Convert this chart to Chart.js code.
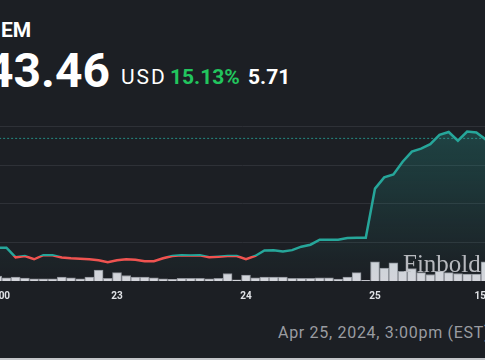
<!DOCTYPE html>
<html>
<head>
<meta charset="utf-8">
<script src="https://cdn.jsdelivr.net/npm/chart.js@4.4.1/dist/chart.umd.min.js"></script>
<style>
  html, body { margin: 0; padding: 0; }
  body { width: 485px; height: 360px; background: #1c1f24; overflow: hidden; position: relative; font-family: Roboto, "Noto Sans", sans-serif; }
  .t { position: absolute; white-space: nowrap; line-height: 1; }
  #wrap { position: absolute; left: -40px; top: 102px; width: 565px; height: 215px; }
  #mark { position: absolute; left: 403px; top: 250px; font-family: "Liberation Serif", serif; font-size: 25px; color: #bfc1c6; opacity: 0.95; }
  #strip { position: absolute; left: 0; bottom: 0; width: 485px; height: 2px; background: #c4c6ca; }
</style>
</head>
<body>
<div class="t" style="left:1px;top:20px;font-size:21px;font-weight:700;color:#fff;">EM</div>
<div class="t" style="left:-14px;top:47px;font-size:48px;font-weight:700;color:#fff;">43.46</div>
<div class="t" style="left:121px;top:67px;font-size:21px;letter-spacing:2px;color:#fff;">USD</div>
<div class="t" style="left:170px;top:67px;font-size:21px;font-weight:700;color:#22c55e;">15.13%</div>
<div class="t" style="left:248px;top:67px;font-size:21px;font-weight:700;color:#fff;">5.71</div>
<div id="wrap"><canvas id="chart"></canvas></div>
<div id="mark">Finbold</div>
<div class="t" style="left:278px;top:325px;font-size:16px;letter-spacing:0.7px;color:#9a9ca1;">Apr 25, 2024, 3:00pm (EST)</div>
<div id="strip"></div>
<script>
// hourly points, index 0..55 (14 per day)
const prices = [
  37.75, 37.75, 37.75, 37.25, 37.32, 37.15, 37.36, 37.36, 37.24, 37.20,
  37.18, 37.15, 37.10, 37.00, 37.10, 37.15, 37.12, 37.05, 37.05, 37.20,
  37.32, 37.36, 37.35, 37.36, 37.25, 37.28, 37.32, 37.32, 37.15, 37.32,
  37.60, 37.62, 37.55, 37.62, 37.80, 37.90, 38.16, 38.16, 38.16, 38.24,
  38.26, 38.26, 40.79, 41.37, 41.52, 42.18, 42.70, 42.85, 43.08, 43.56,
  43.71, 43.26, 43.73, 43.68, 43.33, 43.38
];
const volumes = [
  40, 50, 33, 40, 30, 23, 23, 23, 40, 33,
  23, 40, 113, 27, 87, 57, 40, 40, 33, 23,
  17, 27, 27, 27, 23, 27, 77, 13, 62, 33,
  40, 40, 40, 27, 27, 27, 33, 33, 20, 40,
  87, 7, 197, 133, 187, 100, 127, 87, 67, 100,
  87, 77, 70, 70, 197, 100
];
const tickIndex = [1, 14, 28, 42, 54.2];
const tickLabels = ['12:00', '23', '24', '25', '15:00'];
const gridValues = [38, 40, 42, 44];
const prevClose = 37.33;
const lastLine = 43.38;

const teal = '#26a69a';
const red = '#ef5350';

const ctx = document.getElementById('chart').getContext('2d');

function lineColor(context) {
  const chart = context.chart;
  const area = chart.chartArea;
  if (!area || !chart.scales.y) return teal;
  const py = chart.scales.y.getPixelForValue(prevClose);
  let f = (py - area.top) / (area.bottom - area.top);
  f = Math.min(Math.max(f, 0), 1);
  const g = chart.ctx.createLinearGradient(0, area.top, 0, area.bottom);
  g.addColorStop(0, teal);
  g.addColorStop(f, teal);
  g.addColorStop(f, red);
  g.addColorStop(1, red);
  return g;
}

function fillColor(context) {
  const area = context.chart.chartArea;
  if (!area) return 'rgba(38,166,154,0.2)';
  const g = context.chart.ctx.createLinearGradient(0, area.top, 0, area.bottom);
  g.addColorStop(0, 'rgba(38,166,154,0.30)');
  g.addColorStop(1, 'rgba(38,166,154,0.0)');
  return g;
}

const chart = new Chart(ctx, {
  data: {
    datasets: [
      {
        type: 'line',
        data: [{ x: -4, y: lastLine }, { x: 60, y: lastLine }],
        borderColor: 'rgba(38,166,154,0.8)',
        borderWidth: 1,
        borderDash: [2, 2],
        pointRadius: 0,
        fill: false,
        order: 1
      },
      {
        type: 'line',
        data: prices.map((v, i) => ({ x: i, y: v })),
        borderColor: lineColor,
        backgroundColor: fillColor,
        borderWidth: 2.5,
        pointRadius: 0,
        tension: 0,
        fill: 'start',
        order: 0
      },
      {
        type: 'bar',
        data: volumes.map((v, i) => ({ x: i, y: v })),
        yAxisID: 'vol',
        backgroundColor: '#d3d5db',
        borderColor: '#8e9198',
        borderWidth: 1,
        barThickness: 9,
        order: 2
      }
    ]
  },
  options: {
    responsive: true,
    maintainAspectRatio: false,
    animation: false,
    layout: { padding: { top: 10, bottom: 6, left: 0, right: 0 } },
    plugins: { legend: { display: false }, tooltip: { enabled: false } },
    scales: {
      x: {
        type: 'linear',
        offset: false,
        min: -3.04,
        max: 58.28,
        grid: { display: false, drawTicks: false },
        border: { display: false },
        afterBuildTicks: (axis) => { axis.ticks = tickIndex.map(v => ({ value: v })); },
        ticks: {
          autoSkip: false,
          maxRotation: 0,
          padding: 9,
          color: '#e0e2e6',
          font: { family: 'Roboto', size: 10, weight: 'bold' },
          callback: (v) => tickLabels[tickIndex.indexOf(v)]
        }
      },
      y: {
        min: 36.03,
        max: 44.74,
        grid: { color: '#2e3137', drawTicks: false },
        border: { display: false },
        afterBuildTicks: (axis) => { axis.ticks = gridValues.map(v => ({ value: v })); },
        afterFit: (axis) => { axis.width = 0; },
        ticks: { display: false }
      },
      vol: {
        display: false,
        min: 0,
        max: 1740
      }
    }
  }
});
</script>
</body>
</html>
